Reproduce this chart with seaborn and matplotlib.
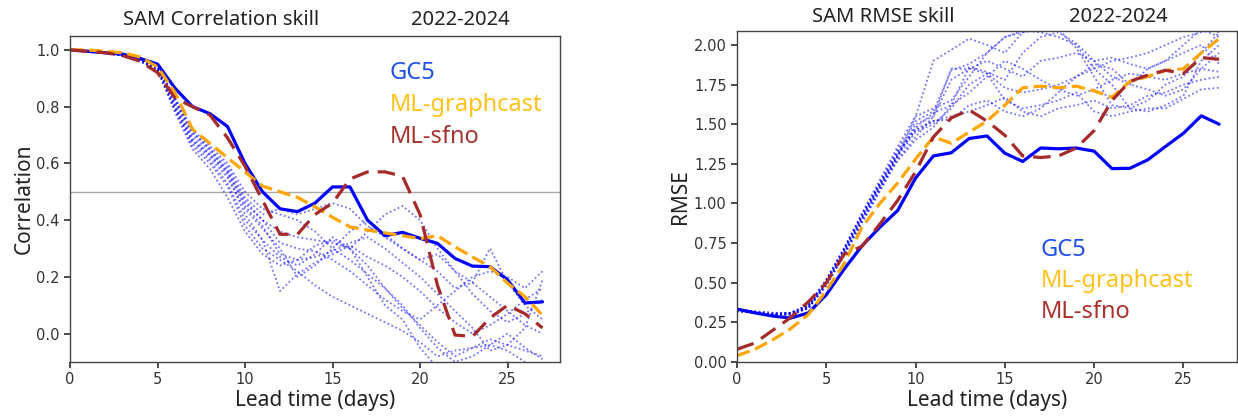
import numpy as np
import pandas as pd
import matplotlib
matplotlib.use("Agg")
import matplotlib.pyplot as plt
import seaborn as sns

days = list(range(28))

# ---- Correlation panel ----
corr_gc5 = [1.0, 0.995, 0.99, 0.985, 0.97, 0.95, 0.865, 0.80, 0.775, 0.73, 0.60, 0.50, 0.44, 0.43, 0.46,
            0.517, 0.517, 0.40, 0.345, 0.357, 0.336, 0.318, 0.265, 0.238, 0.236, 0.19, 0.108, 0.112]
corr_graphcast = [1.0, 1.0, 0.995, 0.99, 0.975, 0.94, 0.85, 0.72, 0.67, 0.62, 0.57, 0.52, 0.50, 0.48, 0.447,
                  0.41, 0.376, 0.365, 0.355, 0.345, 0.335, 0.345, 0.306, 0.27, 0.236, 0.178, 0.13, 0.065]
corr_sfno = [1.0, 0.995, 0.99, 0.98, 0.96, 0.92, 0.83, 0.80, 0.77, 0.69, 0.59, 0.47, 0.35, 0.35, 0.42,
             0.46, 0.545, 0.57, 0.57, 0.555, 0.42, 0.17, -0.005, -0.01, 0.055, 0.10, 0.07, 0.02]
corr_members = [
    [1.0, 0.995, 0.99, 0.98, 0.96, 0.93, 0.79, 0.66, 0.60, 0.52, 0.38, 0.30, 0.26, 0.22, 0.17, 0.13, 0.10, 0.07, 0.04, 0.01, -0.03, -0.08, -0.06, -0.05, -0.04, -0.06, -0.10, -0.12],
    [1.0, 0.995, 0.99, 0.98, 0.965, 0.935, 0.81, 0.69, 0.63, 0.56, 0.42, 0.33, 0.15, 0.21, 0.25, 0.28, 0.31, 0.27, 0.24, 0.20, 0.15, 0.09, 0.04, 0.00, 0.03, 0.07, 0.12, 0.16],
    [1.0, 0.995, 0.99, 0.98, 0.965, 0.94, 0.83, 0.72, 0.66, 0.60, 0.50, 0.44, 0.42, 0.40, 0.36, 0.30, 0.26, 0.21, 0.16, 0.10, 0.02, -0.05, -0.10, -0.08, -0.04, 0.00, -0.05, -0.09],
    [1.0, 0.995, 0.99, 0.98, 0.965, 0.935, 0.80, 0.68, 0.62, 0.55, 0.44, 0.37, 0.30, 0.20, 0.24, 0.30, 0.36, 0.40, 0.35, 0.30, 0.26, 0.22, 0.16, 0.18, 0.30, 0.18, 0.10, 0.05],
    [1.0, 0.995, 0.99, 0.98, 0.965, 0.94, 0.82, 0.71, 0.65, 0.59, 0.48, 0.42, 0.44, 0.42, 0.44, 0.46, 0.44, 0.38, 0.34, 0.30, 0.26, 0.28, 0.22, 0.18, 0.13, 0.08, 0.03, 0.00],
    [1.0, 0.995, 0.99, 0.98, 0.96, 0.93, 0.78, 0.65, 0.58, 0.48, 0.36, 0.28, 0.24, 0.26, 0.31, 0.33, 0.30, 0.24, 0.16, 0.09, 0.03, -0.03, -0.08, -0.05, -0.02, -0.04, -0.06, -0.08],
    [1.0, 0.995, 0.99, 0.98, 0.965, 0.94, 0.82, 0.70, 0.64, 0.58, 0.47, 0.40, 0.36, 0.34, 0.33, 0.32, 0.30, 0.36, 0.42, 0.45, 0.40, 0.30, 0.22, 0.14, 0.08, 0.04, 0.07, 0.12],
    [1.0, 0.995, 0.99, 0.98, 0.965, 0.935, 0.80, 0.68, 0.63, 0.57, 0.45, 0.38, 0.28, 0.26, 0.27, 0.29, 0.32, 0.34, 0.30, 0.25, 0.20, 0.14, 0.08, 0.02, -0.06, -0.04, 0.02, 0.19],
    [1.0, 0.995, 0.99, 0.98, 0.965, 0.94, 0.83, 0.71, 0.65, 0.57, 0.46, 0.40, 0.32, 0.30, 0.29, 0.26, 0.22, 0.17, 0.12, 0.08, 0.05, 0.10, 0.15, 0.20, 0.22, 0.20, 0.16, 0.22],
    [1.0, 0.995, 0.99, 0.98, 0.96, 0.93, 0.79, 0.67, 0.61, 0.53, 0.40, 0.33, 0.27, 0.24, 0.28, 0.34, 0.30, 0.20, 0.10, 0.05, -0.05, -0.12, -0.15, -0.14, -0.12, -0.10, -0.12, -0.11],
]

# ---- RMSE panel ----
rmse_gc5 = [0.334, 0.31, 0.29, 0.277, 0.31, 0.424, 0.586, 0.733, 0.85, 0.956, 1.16, 1.30, 1.32, 1.41, 1.426,
            1.317, 1.265, 1.35, 1.345, 1.35, 1.33, 1.22, 1.222, 1.275, 1.36, 1.443, 1.553, 1.50]
rmse_graphcast = [0.04, 0.08, 0.14, 0.21, 0.30, 0.45, 0.62, 0.85, 1.00, 1.13, 1.28, 1.42, 1.38, 1.45, 1.52,
                  1.62, 1.73, 1.74, 1.73, 1.74, 1.71, 1.67, 1.77, 1.80, 1.84, 1.85, 1.95, 2.04]
rmse_sfno = [0.08, 0.12, 0.20, 0.28, 0.38, 0.50, 0.68, 0.73, 0.87, 1.02, 1.20, 1.42, 1.54, 1.59, 1.52,
             1.43, 1.30, 1.29, 1.30, 1.35, 1.46, 1.65, 1.77, 1.81, 1.84, 1.82, 1.92, 1.91]
rmse_members = [
    [0.33, 0.31, 0.30, 0.30, 0.34, 0.50, 0.68, 0.88, 1.08, 1.30, 1.55, 1.90, 1.97, 2.04, 2.00, 1.95, 2.08, 2.10, 2.12, 2.15, 2.12, 2.10, 2.12, 2.15, 2.13, 2.10, 2.12, 2.08],
    [0.33, 0.31, 0.30, 0.31, 0.36, 0.52, 0.72, 0.93, 1.13, 1.33, 1.48, 1.57, 1.62, 1.86, 1.83, 1.78, 1.95, 2.05, 2.08, 2.01, 1.90, 1.80, 1.75, 1.85, 1.90, 2.00, 2.10, 2.05],
    [0.32, 0.31, 0.30, 0.30, 0.34, 0.49, 0.68, 0.90, 1.10, 1.28, 1.42, 1.55, 1.78, 1.85, 1.82, 1.65, 1.60, 1.62, 1.65, 1.70, 1.58, 1.55, 1.58, 1.60, 1.60, 1.66, 1.72, 1.73],
    [0.33, 0.32, 0.31, 0.31, 0.35, 0.51, 0.71, 0.92, 1.12, 1.32, 1.46, 1.52, 1.55, 1.58, 1.62, 1.67, 1.58, 1.55, 1.60, 1.62, 1.65, 1.60, 1.62, 1.68, 1.70, 1.75, 1.78, 1.80],
    [0.33, 0.31, 0.30, 0.30, 0.35, 0.50, 0.70, 0.91, 1.12, 1.30, 1.50, 1.55, 1.85, 1.85, 1.90, 1.85, 1.80, 1.90, 1.92, 1.95, 1.90, 1.92, 1.88, 1.85, 1.90, 1.95, 2.00, 1.88],
    [0.32, 0.31, 0.30, 0.31, 0.36, 0.52, 0.72, 0.94, 1.15, 1.36, 1.55, 1.60, 1.65, 1.80, 1.95, 2.05, 2.09, 2.08, 2.05, 2.00, 1.85, 1.75, 1.60, 1.58, 1.62, 1.68, 1.90, 2.00],
    [0.33, 0.31, 0.30, 0.30, 0.34, 0.49, 0.69, 0.90, 1.10, 1.30, 1.45, 1.50, 1.60, 1.75, 1.82, 1.73, 1.70, 1.72, 1.75, 1.80, 1.88, 1.85, 1.75, 1.72, 1.68, 1.72, 1.85, 1.95],
    [0.33, 0.32, 0.31, 0.31, 0.35, 0.50, 0.70, 0.91, 1.11, 1.31, 1.47, 1.52, 1.53, 1.62, 1.65, 1.58, 1.55, 1.60, 1.70, 1.80, 1.85, 1.90, 1.92, 1.95, 2.00, 2.05, 2.08, 2.10],
    [0.32, 0.31, 0.30, 0.30, 0.34, 0.48, 0.67, 0.88, 1.08, 1.27, 1.40, 1.48, 1.62, 1.70, 1.80, 1.90, 1.85, 1.78, 1.72, 1.68, 1.72, 1.78, 1.82, 1.80, 1.78, 1.82, 1.85, 1.83],
    [0.33, 0.31, 0.30, 0.31, 0.36, 0.51, 0.71, 0.93, 1.13, 1.34, 1.52, 1.58, 1.84, 1.88, 1.95, 2.05, 2.08, 2.10, 2.10, 1.98, 1.80, 1.62, 1.60, 1.65, 1.75, 1.80, 1.95, 2.08],
]

model_names = ["GC5", "ML-graphcast", "ML-sfno"]
label_colors = ["#1f4fe8", "#ffc21a", "#a8322d"]

sns.set_theme(style="ticks")
plt.rcParams["font.family"] = ["DejaVu Sans"]
TXT = ["Noto Sans", "DejaVu Sans"]

fig = plt.figure(figsize=(12.38, 4.16), dpi=100)
axL = fig.add_axes([70 / 1238, 54 / 416, 490 / 1238, 326.3 / 416])
axR = fig.add_axes([737 / 1238, 54 / 416, 500 / 1238, 331.3 / 416])


def draw(ax, members, gc5, gcast, sfno):
    for m in members:
        ln = sns.lineplot(x=days, y=m, ax=ax, color="blue", alpha=0.55, linewidth=1.3,
                          legend=False).lines[-1]
        ln.set_dashes((1.0, 1.4))
    sns.lineplot(x=days, y=gc5, ax=ax, color="blue", linewidth=2.3, legend=False)
    l1 = sns.lineplot(x=days, y=gcast, ax=ax, color="orange", linewidth=2.3, legend=False).lines[-1]
    l1.set_dashes((4.2, 1.8))
    l2 = sns.lineplot(x=days, y=sfno, ax=ax, color="brown", linewidth=2.3, legend=False).lines[-1]
    l2.set_dashes((5.5, 2.8))
    ax.set_xlim(0, 28)
    ax.set_xticks([0, 5, 10, 15, 20, 25])
    ax.set_xlabel("Lead time (days)", fontsize=15, family=TXT, color="#222222", labelpad=2)
    ax.tick_params(labelsize=10.5, colors="#333333", length=4)
    for s in ax.spines.values():
        s.set_color("#444444")
        s.set_linewidth(1.0)


draw(axL, corr_members, corr_gc5, corr_graphcast, corr_sfno)
axL.axhline(0.5, color="#aaaaaa", linewidth=1.0, zorder=0)
axL.set_ylim(-0.1, 1.05)
axL.set_yticks([0.0, 0.2, 0.4, 0.6, 0.8, 1.0])
axL.set_ylabel("Correlation", fontsize=15, family=TXT, color="#222222", labelpad=1)

draw(axR, rmse_members, rmse_gc5, rmse_graphcast, rmse_sfno)
axR.set_ylim(0, 2.09)
axR.set_yticks([0.0, 0.25, 0.5, 0.75, 1.0, 1.25, 1.5, 1.75, 2.0])
axR.yaxis.set_major_formatter(matplotlib.ticker.FormatStrFormatter("%.2f"))
axR.set_ylabel("RMSE", fontsize=15, family=TXT, color="#222222", labelpad=2)

# legends as coloured text
for i, (name, col) in enumerate(zip(model_names, label_colors)):
    axL.text(0.653, 0.887 - i * 0.098, name, transform=axL.transAxes, color=col,
             fontsize=17, family=TXT, va="center", ha="left")
    axR.text(0.608, 0.338 - i * 0.094, name, transform=axR.transAxes, color=col,
             fontsize=17, family=TXT, va="center", ha="left")

fig.text(221 / 1238, 1 - 20 / 416, "SAM Correlation skill", fontsize=14.5, family=TXT,
         ha="center", va="center", color="#222222")
fig.text(460 / 1238, 1 - 20 / 416, "2022-2024", fontsize=14.5, family=TXT,
         ha="center", va="center", color="#222222")
fig.text(883 / 1238, 1 - 17 / 416, "SAM RMSE skill", fontsize=14.5, family=TXT,
         ha="center", va="center", color="#222222")
fig.text(1118 / 1238, 1 - 17 / 416, "2022-2024", fontsize=14.5, family=TXT,
         ha="center", va="center", color="#222222")

fig.savefig("out.png", dpi=100)
